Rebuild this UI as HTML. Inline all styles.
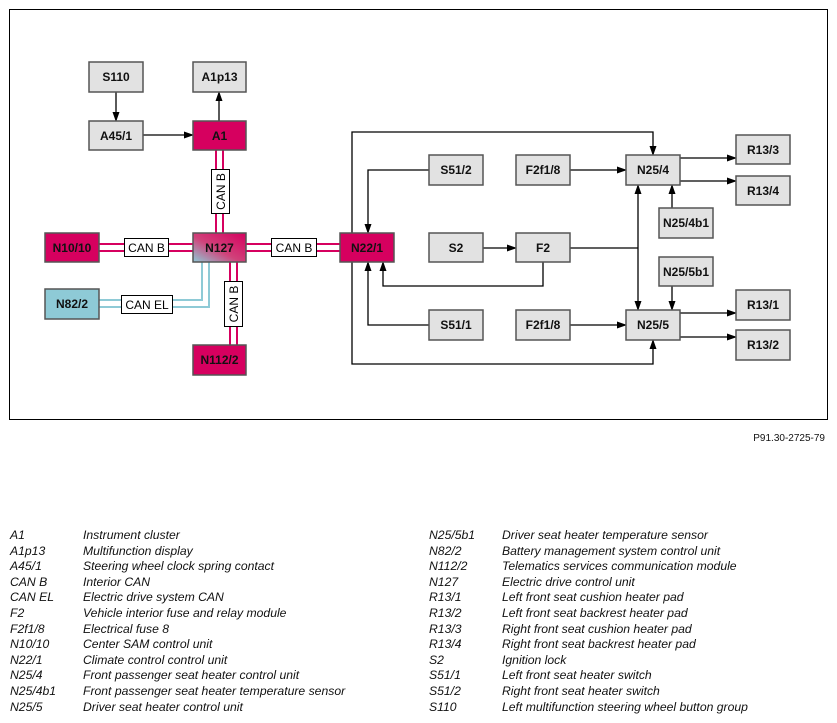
<!DOCTYPE html>
<html><head><meta charset="utf-8"><style>
body{margin:0;background:#fff;width:837px;height:723px;overflow:hidden;font-family:"Liberation Sans",Arial,sans-serif}
.lg{position:absolute;font-size:12.2px;font-style:italic;color:#111;white-space:nowrap}
</style></head><body>
<svg width="837" height="723" style="position:absolute;left:0;top:0" font-family="Liberation Sans, Arial, sans-serif">
<defs>
<marker id="a" markerWidth="10" markerHeight="8" refX="9" refY="4" orient="auto" markerUnits="userSpaceOnUse"><path d="M0,0.5 L10,4 L0,7.5z" fill="#000"/></marker>
<linearGradient id="g" x1="0" y1="1" x2="1" y2="0"><stop offset="0" stop-color="#8ecad6"/><stop offset="0.45" stop-color="#d0427a"/><stop offset="1" stop-color="#d6005f"/></linearGradient>
</defs>
<rect x="9.5" y="9.5" width="818" height="410" fill="none" stroke="#000" stroke-width="1"/>
<g stroke="#d6005f" stroke-width="2" fill="none">
<line x1="216" y1="150" x2="216" y2="233"/><line x1="223" y1="150" x2="223" y2="233"/>
<line x1="230" y1="262" x2="230" y2="345"/><line x1="237" y1="262" x2="237" y2="345"/>
<line x1="99" y1="244" x2="193" y2="244"/><line x1="99" y1="251" x2="193" y2="251"/>
<line x1="246" y1="244" x2="340" y2="244"/><line x1="246" y1="251" x2="340" y2="251"/>
</g>
<g stroke="#8ecad6" stroke-width="2" fill="none">
<polyline points="99,300 202,300 202,262"/><polyline points="99,307 209,307 209,262"/>
</g>
<g font-size="12" fill="#000">
<rect x="124.5" y="238.5" width="44" height="18" fill="#fff" stroke="#000"/><text x="146.5" y="252" text-anchor="middle">CAN B</text>
<rect x="271.5" y="238.5" width="45" height="18" fill="#fff" stroke="#000"/><text x="294" y="252" text-anchor="middle">CAN B</text>
<rect x="121.5" y="295.5" width="51" height="18" fill="#fff" stroke="#000"/><text x="147" y="309" text-anchor="middle">CAN EL</text>
<rect x="211.5" y="169.5" width="18" height="44" fill="#fff" stroke="#000"/><text transform="translate(225,191.5) rotate(-90)" text-anchor="middle">CAN B</text>
<rect x="224.5" y="281.5" width="18" height="45" fill="#fff" stroke="#000"/><text transform="translate(238,304) rotate(-90)" text-anchor="middle">CAN B</text>
</g>
<g stroke="#000" stroke-width="1.3" fill="none" marker-end="url(#a)">
<line x1="116" y1="92" x2="116" y2="121"/>
<line x1="219" y1="121" x2="219" y2="92"/>
<line x1="143" y1="135" x2="193" y2="135"/>
<polyline points="352,233 352,132 653,132 653,155"/>
<polyline points="352,262 352,364 653,364 653,340"/>
<polyline points="429,170 368,170 368,233"/>
<polyline points="429,325 368,325 368,262"/>
<polyline points="543,262 543,286 383,286 383,262"/>
<line x1="483" y1="248" x2="516" y2="248"/>
<line x1="570" y1="170" x2="626" y2="170"/>
<line x1="570" y1="325" x2="626" y2="325"/>
<line x1="638" y1="248" x2="638" y2="185"/>
<line x1="638" y1="248" x2="638" y2="310"/>
<line x1="680" y1="158" x2="736" y2="158"/>
<line x1="680" y1="181" x2="736" y2="181"/>
<line x1="680" y1="313" x2="736" y2="313"/>
<line x1="680" y1="337" x2="736" y2="337"/>
<line x1="672" y1="208" x2="672" y2="185"/>
<line x1="672" y1="286" x2="672" y2="310"/>
</g>
<line x1="570" y1="248" x2="638" y2="248" stroke="#000" stroke-width="1.3"/>
<g stroke="#555" stroke-width="1.5" font-size="12" font-weight="bold" text-anchor="middle">
<g fill="#e2e2e2">
<rect x="89" y="62" width="54" height="30"/><rect x="193" y="62" width="53" height="30"/>
<rect x="89" y="121" width="54" height="29"/>
<rect x="429" y="155" width="54" height="30"/><rect x="516" y="155" width="54" height="30"/><rect x="626" y="155" width="54" height="30"/>
<rect x="736" y="135" width="54" height="29"/><rect x="736" y="176" width="54" height="29"/>
<rect x="659" y="208" width="54" height="30"/>
<rect x="429" y="233" width="54" height="29"/><rect x="516" y="233" width="54" height="29"/>
<rect x="659" y="257" width="54" height="29"/>
<rect x="736" y="290" width="54" height="30"/><rect x="736" y="330" width="54" height="30"/>
<rect x="429" y="310" width="54" height="30"/><rect x="516" y="310" width="54" height="30"/><rect x="626" y="310" width="54" height="30"/>
</g>
<g fill="#d6005f">
<rect x="193" y="121" width="53" height="29"/><rect x="45" y="233" width="54" height="29"/>
<rect x="340" y="233" width="54" height="29"/><rect x="193" y="345" width="53" height="30"/>
</g>
<rect x="193" y="233" width="53" height="29" fill="url(#g)"/>
<rect x="45" y="289" width="54" height="30" fill="#8ecad6"/>
</g>
<g font-size="12" font-weight="bold" text-anchor="middle" fill="#111">
<text x="116" y="81">S110</text><text x="219.5" y="81">A1p13</text><text x="116" y="140">A45/1</text>
<text x="219.5" y="140">A1</text><text x="72" y="252">N10/10</text><text x="219.5" y="252">N127</text>
<text x="367" y="252">N22/1</text><text x="72" y="308">N82/2</text><text x="219.5" y="364">N112/2</text>
<text x="456" y="174">S51/2</text><text x="543" y="174">F2f1/8</text><text x="653" y="174">N25/4</text>
<text x="763" y="154">R13/3</text><text x="763" y="195">R13/4</text><text x="686" y="227">N25/4b1</text>
<text x="456" y="252">S2</text><text x="543" y="252">F2</text><text x="686" y="276">N25/5b1</text>
<text x="763" y="309">R13/1</text><text x="763" y="349">R13/2</text>
<text x="456" y="329">S51/1</text><text x="543" y="329">F2f1/8</text><text x="653" y="329">N25/5</text>
</g>
<text x="825" y="441" font-size="10" text-anchor="end" fill="#111">P91.30-2725-79</text>
</svg>
<div class="lg" style="left:10px;top:528px;line-height:15.6px">A1<br>A1p13<br>A45/1<br>CAN B<br>CAN EL<br>F2<br>F2f1/8<br>N10/10<br>N22/1<br>N25/4<br>N25/4b1<br>N25/5</div>
<div class="lg" style="left:83px;top:528px;line-height:15.6px">Instrument cluster<br>Multifunction display<br>Steering wheel clock spring contact<br>Interior CAN<br>Electric drive system CAN<br>Vehicle interior fuse and relay module<br>Electrical fuse 8<br>Center SAM control unit<br>Climate control control unit<br>Front passenger seat heater control unit<br>Front passenger seat heater temperature sensor<br>Driver seat heater control unit</div>
<div class="lg" style="left:429px;top:528px;line-height:15.6px">N25/5b1<br>N82/2<br>N112/2<br>N127<br>R13/1<br>R13/2<br>R13/3<br>R13/4<br>S2<br>S51/1<br>S51/2<br>S110</div>
<div class="lg" style="left:502px;top:528px;line-height:15.6px">Driver seat heater temperature sensor<br>Battery management system control unit<br>Telematics services communication module<br>Electric drive control unit<br>Left front seat cushion heater pad<br>Left front seat backrest heater pad<br>Right front seat cushion heater pad<br>Right front seat backrest heater pad<br>Ignition lock<br>Left front seat heater switch<br>Right front seat heater switch<br>Left multifunction steering wheel button group</div>
</body></html>
